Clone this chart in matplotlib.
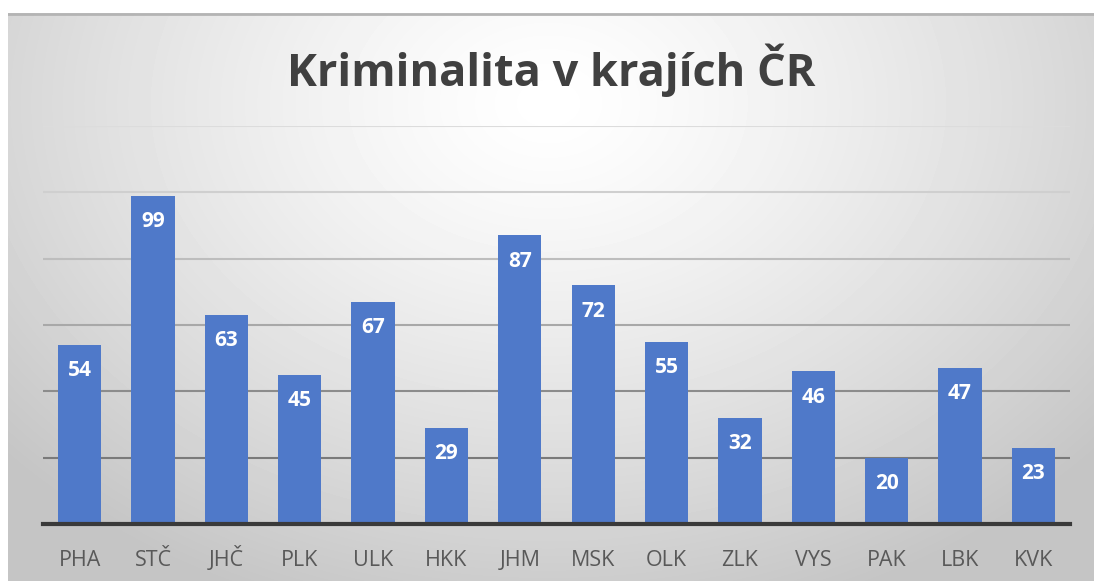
import numpy as np
import matplotlib.pyplot as plt

kraje = ['PHA', 'STČ', 'JHČ', 'PLK', 'ULK', 'HKK', 'JHM', 'MSK', 'OLK', 'ZLK', 'VYS', 'PAK', 'LBK', 'KVK']
hodnoty = [54, 99, 63, 45, 67, 29, 87, 72, 55, 32, 46, 20, 47, 23]
mrizka = [20, 40, 60, 80, 100, 120]

fig = plt.figure(figsize=(10.94, 5.81), dpi=100)
fig.patch.set_facecolor('white')

# radial gradient background of the chart area
bg = fig.add_axes([8 / 1094, 0, 1 - 8 / 1094, 1 - 13 / 581], zorder=-1)
yy, xx = np.mgrid[0:568, 0:1086]
d = np.sqrt(((xx - 540) / 700.0) ** 2 + ((yy - 90) / 520.0) ** 2)
shade = np.clip(1.0 - 0.22 * d ** 1.3, 0.77, 1.0)
bg.imshow(shade, cmap='gray', vmin=0, vmax=1, aspect='auto', interpolation='bilinear')
bg.axhline(0.5, color='#b4b4b4', lw=2)
bg.axis('off')

ax = fig.add_axes([43 / 1094, 57 / 581, 1027 / 1094, 398 / 581])
ax.patch.set_alpha(0)
x = np.arange(len(kraje))
bars = ax.bar(x, hodnoty, width=0.59, color='#4f79c9', zorder=2)

grid_cols = ['#7a7a7a', '#8c8c8c', '#a8a8a8', '#bdbdbd', '#cfcfcf', '#dcdcdc']
for g, c in zip(mrizka, grid_cols):
    ax.axhline(g, color=c, lw=1.5, zorder=1)

for b, v in zip(bars, hodnoty):
    ax.text(b.get_x() + b.get_width() / 2, v - 7.8, str(v), ha='center', va='center',
            color='white', fontsize=15, fontweight='bold', family='Open Sans', zorder=3)

ax.set_xlim(-0.5, 13.5)
ax.set_ylim(0, 120)
ax.set_yticks([])
ax.set_xticks(x)
ax.set_xticklabels(kraje, fontsize=15.5, color='#595959', family='Open Sans', va='baseline')
ax.tick_params(axis='x', length=0, pad=30)
for s in ['top', 'right', 'left']:
    ax.spines[s].set_visible(False)
ax.spines['bottom'].set_color('#3a3a3a')
ax.spines['bottom'].set_linewidth(3)
ax.spines['bottom'].set_zorder(4)

fig.text(0.504, 1 - 70 / 581, 'Kriminalita v krajích ČR', ha='center', va='center',
         fontsize=32.5, fontweight='bold', color='#404040', family='Open Sans')

fig.savefig('out.png', dpi=100)
